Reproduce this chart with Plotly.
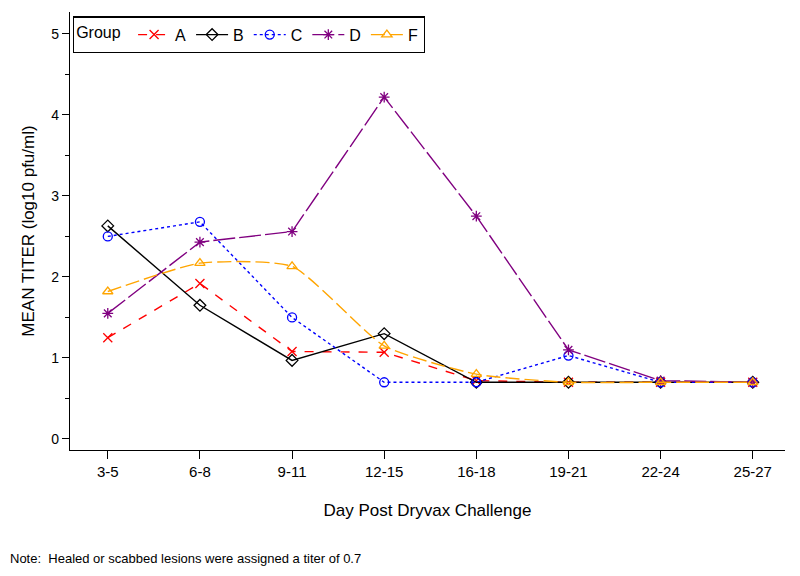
import plotly.graph_objects as go

days = ["3-5", "6-8", "9-11", "12-15", "16-18", "19-21", "22-24", "25-27"]
group_a = [1.25, 1.92, 1.08, 1.07, 0.72, 0.70, 0.70, 0.70]
group_b = [2.63, 1.65, 0.97, 1.30, 0.70, 0.70, 0.70, 0.70]
group_c = [2.50, 2.68, 1.50, 0.70, 0.70, 1.03, 0.70, 0.70]
group_d = [1.55, 2.43, 2.56, 4.22, 2.75, 1.10, 0.72, 0.70]
group_f = [1.82, 2.17, 2.13, 1.15, 0.80, 0.70, 0.70, 0.70]

series = [
    ("A", group_a, "#FF0000", "dash", "x-thin-open", "linear"),
    ("B", group_b, "#000000", "solid", "diamond-open", "linear"),
    ("C", group_c, "#0000FF", "dot", "circle-open", "linear"),
    ("D", group_d, "#800080", "22px,4px", "asterisk-open", "linear"),
    ("F", group_f, "#FFA500", "14px,5px", "triangle-up-open", "spline"),
]

fig = go.Figure()
for name, vals, color, dash, sym, shape in series:
    line = dict(color=color, dash=dash, width=1.4, shape=shape)
    if shape == "spline":
        line["smoothing"] = 0.55
    fig.add_trace(go.Scatter(
        x=list(range(len(days))), y=vals, name=name, mode="lines+markers",
        line=line,
        marker=dict(symbol=sym, size=9, color=color, line=dict(color=color, width=1.3)),
    ))

# page body has an 8px margin, so the figure is sized/offset to compensate
fig.update_layout(
    width=792, height=568,
    margin=dict(l=62, r=15, t=4, b=126, autoexpand=False),
    paper_bgcolor="white", plot_bgcolor="white",
    font=dict(family="Arial, Liberation Sans, sans-serif", size=14, color="#000"),
    showlegend=True,
    legend=dict(
        orientation="h", x=0.004, y=0.99, xanchor="left", yanchor="top",
        bordercolor="#000", borderwidth=1.3, bgcolor="white",
        title=dict(text="Group ", side="left", font=dict(size=16)),
        font=dict(size=16), itemwidth=32, tracegroupgap=0,
    ),
    xaxis=dict(
        tickmode="array", tickvals=list(range(len(days))), ticktext=days,
        range=[-0.41, 7.35], showline=True, linecolor="#000", linewidth=1.3,
        ticks="outside", ticklen=8, tickcolor="#000", showgrid=False, zeroline=False,
        title=dict(text="Day Post Dryvax Challenge", font=dict(size=17), standoff=24),
        tickfont=dict(size=15), automargin=False,
    ),
    yaxis=dict(
        range=[-0.136, 5.27], tickvals=[0, 1, 2, 3, 4, 5],
        showline=True, linecolor="#000", linewidth=1.3,
        ticks="outside", ticklen=7, tickcolor="#000", showgrid=False, zeroline=False,
        minor=dict(tickvals=[0.5, 1.5, 2.5, 3.5, 4.5], ticks="outside", ticklen=4, tickcolor="#000", showgrid=False),
        title=dict(text="MEAN TITER (log10 pfu/ml)", font=dict(size=17), standoff=12),
        tickfont=dict(size=14), automargin=False,
    ),
    annotations=[dict(
        text="Note:  Healed or scabbed lesions were assigned a titer of 0.7",
        xref="paper", yref="paper", x=-0.087, y=-0.247, xanchor="left", yanchor="middle",
        showarrow=False, font=dict(size=13),
    )],
)

fig.write_html("out.html")
